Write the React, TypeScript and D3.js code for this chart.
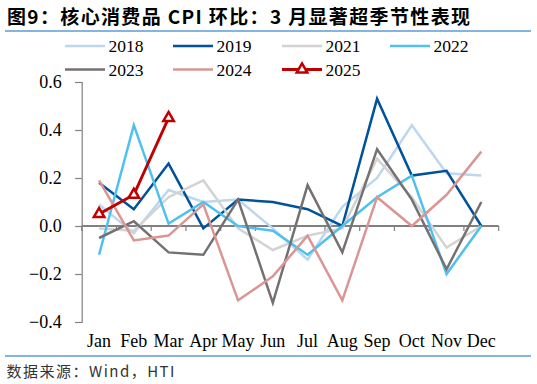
import * as d3 from "d3";
import { useEffect, useRef } from "react";

const months = ["Jan", "Feb", "Mar", "Apr", "May", "Jun", "Jul", "Aug", "Sep", "Oct", "Nov", "Dec"];
const yTicks = [-0.4, -0.2, 0.0, 0.2, 0.4, 0.6];

const v2018 = [0.09, -0.03, 0.15, 0.1, 0.11, -0.01, -0.14, 0.08, 0.2, 0.42, 0.22, 0.21];
const v2019 = [0.18, 0.07, 0.26, -0.01, 0.11, 0.1, 0.07, 0.0, 0.53, 0.21, 0.23, 0.0];
const v2021 = [-0.01, -0.02, 0.12, 0.19, -0.01, -0.1, -0.04, -0.01, 0.28, 0.12, -0.09, 0.0];
const v2022 = [-0.12, 0.42, 0.01, 0.1, 0.0, -0.02, -0.12, 0.0, 0.12, 0.21, -0.2, 0.0];
const v2023 = [-0.05, 0.02, -0.11, -0.12, 0.11, -0.32, 0.17, -0.11, 0.32, 0.11, -0.18, 0.1];
const v2024 = [0.19, -0.06, -0.04, 0.09, -0.31, -0.21, -0.04, -0.31, 0.12, 0.0, 0.13, 0.31];
const v2025 = [0.05, 0.13, 0.45];

const seriesNames = ["2018", "2019", "2021", "2022", "2023", "2024", "2025"];
const seriesValues = [v2018, v2019, v2021, v2022, v2023, v2024, v2025];
const seriesColors = ["#bdd7ee", "#00529b", "#d3d3d3", "#4fc1ef", "#767171", "#da9694", "#c00000"];

const SERIF = "Liberation Serif, DejaVu Serif, serif";

function App() {
	const ref = useRef<SVGSVGElement>(null);

	useEffect(() => {
		document.body.style.margin = "0";
		const svg = d3.select(ref.current);
		svg.selectAll("*").remove();

		const x = d3.scaleBand<string>().domain(months).range([81.7, 498.7]);
		const y = d3.scaleLinear().domain([-0.4, 0.6]).range([322, 82]);

		// title
		svg.append("text")
			.attr("x", 7)
			.attr("y", 24)
			.attr("textLength", 463)
			.attr("lengthAdjust", "spacing")
			.attr("font-family", "Noto Sans CJK SC")
			.attr("font-weight", "bold")
			.attr("font-size", 19)
			.attr("fill", "#000")
			.text("图9：核心消费品 CPI 环比：3 月显著超季节性表现");
		svg.append("line")
			.attr("x1", 5).attr("x2", 531)
			.attr("y1", 31).attr("y2", 31)
			.attr("stroke", "#5b9bd5").attr("stroke-width", 1.3);

		// y axis
		const yAxis = svg.append("g").attr("transform", "translate(81.7,0)")
			.call(d3.axisLeft(y).tickValues(yTicks).tickSize(6.5).tickFormat(d3.format(".1f")));
		yAxis.attr("font-family", SERIF).attr("font-size", 18);
		yAxis.select(".domain").attr("stroke", "#808080").attr("stroke-width", 1.2);
		yAxis.selectAll(".tick line").attr("stroke", "#808080").attr("stroke-width", 1.2);
		yAxis.selectAll(".tick text").attr("x", -20).attr("fill", "#000");

		// x axis at zero
		const xAxis = svg.append("g").attr("transform", "translate(0," + y(0) + ")");
		xAxis.append("line")
			.attr("x1", 81.7).attr("x2", 498.7)
			.attr("stroke", "#808080").attr("stroke-width", 2);
		const edges = months.map((m) => x(m) as number).concat([498.7]);
		xAxis.selectAll("line.tk").data(edges).enter().append("line")
			.attr("class", "tk")
			.attr("x1", (d) => d).attr("x2", (d) => d)
			.attr("y1", 0).attr("y2", 5)
			.attr("stroke", "#808080").attr("stroke-width", 1.2);

		svg.selectAll("text.month").data(months).enter().append("text")
			.attr("class", "month")
			.attr("x", (d) => (x(d) as number) + x.bandwidth() / 2)
			.attr("y", 347)
			.attr("text-anchor", "middle")
			.attr("font-family", SERIF)
			.attr("font-size", 18)
			.text((d) => d);

		const line = d3.line<number>()
			.x((_, i) => (x(months[i]) as number) + x.bandwidth() / 2)
			.y((d) => y(d));

		seriesValues.forEach((vals, i) => {
			svg.append("path")
				.attr("d", line(vals))
				.attr("fill", "none")
				.attr("stroke", seriesColors[i])
				.attr("stroke-width", i === 6 ? 3 : 2.5)
				.attr("stroke-linejoin", "miter");
		});

		const tri = d3.symbol().type(d3.symbolTriangle).size(48);
		svg.selectAll("path.mk").data(v2025).enter().append("path")
			.attr("class", "mk")
			.attr("d", tri)
			.attr("transform", (d, i) => "translate(" + ((x(months[i]) as number) + x.bandwidth() / 2) + "," + y(d) + ")")
			.attr("fill", "#fff")
			.attr("stroke", "#c00000")
			.attr("stroke-width", 2.5);

		// legend
		const legX = [65, 173, 282, 390];
		const legY = [46, 69.5];
		seriesNames.forEach((name, i) => {
			const lx = legX[i % 4];
			const ly = legY[Math.floor(i / 4)];
			const g = svg.append("g").attr("transform", "translate(" + lx + "," + ly + ")");
			g.append("line")
				.attr("x1", 0).attr("x2", 40)
				.attr("stroke", seriesColors[i])
				.attr("stroke-width", i === 6 ? 3 : 2.5);
			if (i === 6) {
				g.append("path")
					.attr("d", tri)
					.attr("transform", "translate(20,0)")
					.attr("fill", "#fff")
					.attr("stroke", "#c00000")
					.attr("stroke-width", 2.5);
			}
			g.append("text")
				.attr("x", 43.5)
				.attr("y", 6)
				.attr("font-family", SERIF)
				.attr("font-size", 17.5)
				.text(name);
		});

		// source
		svg.append("line")
			.attr("x1", 5).attr("x2", 531)
			.attr("y1", 356).attr("y2", 356)
			.attr("stroke", "#5b9bd5").attr("stroke-width", 1.3);
		svg.append("text")
			.attr("x", 6.5)
			.attr("y", 377)
			.attr("textLength", 168)
			.attr("lengthAdjust", "spacing")
			.attr("font-family", "Noto Sans CJK SC")
			.attr("font-size", 15)
			.attr("fill", "#333")
			.text("数据来源：Wind，HTI");
	}, []);

	return <svg ref={ref} width={537} height={384} style={{ display: "block", background: "#fff" }}></svg>;
}

export default App;
